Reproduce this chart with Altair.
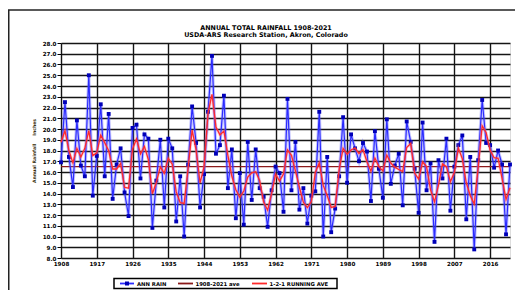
import altair as alt
import pandas as pd

# ---- data ----
years = list(range(1908, 2022))
ann_rain = [
    16.9, 22.5, 17.4, 14.6, 20.8, 16.6, 15.6, 25.0, 13.8, 17.5,
    22.3, 15.6, 21.4, 13.5, 16.7, 18.2, 14.1, 11.9, 20.1, 20.4,
    15.4, 19.5, 19.1, 10.8, 15.2, 19.0, 12.7, 19.1, 18.2, 11.4,
    15.6, 10.0, 16.7, 22.1, 18.7, 12.7, 15.8, 21.6, 26.8, 17.7,
    18.5, 23.1, 14.5, 18.1, 11.7, 15.9, 11.1, 18.8, 13.4, 18.1,
    14.5, 13.7, 10.9, 14.3, 16.5, 15.9, 12.3, 22.8, 14.3, 18.8,
    12.5, 14.5, 11.2, 13.8, 14.2, 21.6, 10.0, 17.4, 10.4, 12.6,
    15.6, 21.1, 15.0, 19.5, 18.2, 17.0, 18.7, 17.9, 13.3, 19.8,
    16.3, 13.6, 20.9, 14.9, 16.6, 17.7, 12.9, 20.7, 18.8, 16.3,
    12.2, 20.6, 14.3, 16.8, 9.5, 17.1, 15.4, 19.1, 12.4, 16.5,
    18.5, 19.4, 11.6, 17.4, 8.8, 17.1, 22.7, 18.7, 18.5, 16.4,
    18.0, 16.7, 10.2, 16.7,
]
running_ave = [
    18.77, 19.83, 17.98, 16.85, 18.20, 17.40, 18.20, 19.85, 17.53, 17.78,
    19.43, 18.73, 17.98, 16.28, 16.28, 16.80, 14.58, 14.50, 18.13, 19.08,
    17.68, 18.38, 17.13, 13.98, 15.05, 16.48, 15.88, 17.28, 16.73, 14.15,
    13.15, 13.08, 16.38, 19.90, 18.05, 14.98, 16.48, 21.45, 23.23, 20.18,
    19.45, 19.80, 17.55, 15.60, 14.35, 13.65, 14.23, 15.53, 15.93, 16.03,
    15.20, 13.20, 12.45, 14.00, 15.80, 15.15, 15.83, 18.05, 17.55, 16.10,
    14.58, 13.18, 12.68, 13.25, 15.95, 16.85, 14.75, 13.80, 12.70, 12.80,
    16.23, 18.20, 17.65, 18.05, 18.23, 17.73, 18.08, 16.95, 16.08, 17.30,
    16.50, 16.10, 17.58, 16.83, 16.45, 16.23, 16.05, 18.28, 18.65, 15.90,
    15.33, 16.93, 16.50, 14.35, 13.23, 14.78, 16.75, 16.50, 15.10, 15.98,
    18.23, 17.23, 15.00, 13.80, 13.03, 16.43, 20.30, 19.65, 18.03, 17.33,
    17.28, 15.40, 13.45, 14.53,
]
ave_value = [16.5]
x_tick_years = [1908, 1917, 1926, 1935, 1944, 1953, 1962, 1971, 1980, 1989, 1998, 2007, 2016]
y_ticks = [float(v) for v in range(8, 29)]
series_names = ["ANN RAIN", "1908-2021 ave", "1-2-1 RUNNING AVE"]
series_colors = ["#2b2bff", "#8b1a1a", "#ff2a2a"]
marker_color = "#0000b8"
title_lines = ["ANNUAL TOTAL RAINFALL 1908-2021", "USDA-ARS Research Station, Akron, Colorado"]

rain_df = pd.DataFrame({"year": years, "value": ann_rain})
run_df = pd.DataFrame({"year": years, "value": running_ave})
ave_df = pd.DataFrame({"value": ave_value})
one = pd.DataFrame({"k": [0]})

FONT = "DejaVu Sans"

x_axis = alt.Axis(
    values=x_tick_years, format="d", title=None, labelFlush=False, labelOverlap=False,
    labelFont=FONT, labelFontSize=5.6, labelFontWeight="bold", labelColor="black",
    labelPadding=3, ticks=False, domain=False,
    grid=True, gridColor="#151515", gridWidth=1.4,
)
x_enc = alt.X(
    "year:Q",
    scale=alt.Scale(domain=[1908, 2021], nice=False, zero=False),
    axis=x_axis,
)
y_scale = alt.Scale(domain=[8, 28], nice=False, zero=False)
y_axis = alt.Axis(
    values=y_ticks, format=".1f", labelOverlap=False,
    title="Annual Rainfall\u00a0\u00a0\u00a0\u00a0\u00a0Inches",
    titleFont=FONT, titleFontSize=4.6, titleFontWeight="bold", titleColor="#3a3010",
    titlePadding=6,
    labelFont=FONT, labelFontSize=5.6, labelFontWeight="bold", labelColor="black",
    labelPadding=1, tickSize=4, tickColor="black", tickWidth=1, domain=False,
    grid=True, gridColor="#151515", gridWidth=1.3,
)
y_enc = alt.Y("value:Q", scale=y_scale, axis=y_axis)

# outer chart frame (top and left edges visible in the reference)
frame_top = alt.Chart(one).mark_rule(stroke="#222222", strokeWidth=1.6).encode(
    x=alt.value(-54), x2=alt.value(454), y=alt.value(-33)
)
frame_left = alt.Chart(one).mark_rule(stroke="#222222", strokeWidth=1.6).encode(
    x=alt.value(-52.3), y=alt.value(-33), y2=alt.value(260)
)

# chart title (two centred lines inside the frame)
title_marks = [
    alt.Chart(one).mark_text(
        font=FONT, fontSize=6.4, fontWeight="bold", color="black",
        align="center", baseline="middle",
    ).encode(x=alt.value(205), y=alt.value(-15 + 7 * i), text=alt.value(title_lines[i]))
    for i in range(2)
]

ave_rule = alt.Chart(ave_df).mark_rule(strokeWidth=1.2, color=series_colors[1]).encode(
    y=y_enc
)
blue_glow = alt.Chart(rain_df).mark_line(strokeWidth=3.2, opacity=0.35, color="#5a5aff").encode(
    x=x_enc, y=y_enc
)
blue_line = alt.Chart(rain_df).mark_line(strokeWidth=1.2, color=series_colors[0]).encode(
    x=x_enc, y=y_enc
)
squares = alt.Chart(rain_df).mark_square(size=15, opacity=1, color=marker_color).encode(
    x=x_enc, y=y_enc
)
red_glow = alt.Chart(run_df).mark_line(strokeWidth=3, opacity=0.3, color="#ff6a8a").encode(
    x=x_enc, y=y_enc
)
red_line = alt.Chart(run_df).mark_line(strokeWidth=1.3, color=series_colors[2]).encode(
    x=x_enc, y=y_enc
)

# legend box
LY = 240.5
leg_box = alt.Chart(one).mark_rect(fill="white", stroke="black", strokeWidth=1.5).encode(
    x=alt.value(53), x2=alt.value(276), y=alt.value(235.5), y2=alt.value(245.5)
)
leg_items = []
sym_x = [(59, 73), (117, 132), (191, 206)]
lab_x = [76, 134.5, 208.5]
for i in range(3):
    leg_items.append(
        alt.Chart(one).mark_rule(strokeWidth=1.8, color=series_colors[i]).encode(
            x=alt.value(sym_x[i][0]), x2=alt.value(sym_x[i][1]), y=alt.value(LY)
        )
    )
    leg_items.append(
        alt.Chart(one).mark_text(
            font=FONT, fontSize=5.3, fontWeight="bold", color="black",
            align="left", baseline="middle",
        ).encode(x=alt.value(lab_x[i]), y=alt.value(LY + 0.3), text=alt.value(series_names[i]))
    )
leg_items.append(
    alt.Chart(one).mark_square(size=16, opacity=1, color=marker_color).encode(
        x=alt.value(66), y=alt.value(LY)
    )
)

chart = alt.layer(
    frame_top, frame_left, *title_marks, ave_rule, blue_glow, blue_line, squares,
    red_glow, red_line, leg_box, *leg_items
).properties(
    width=449, height=215,
    autosize=alt.AutoSizeParams(type="none"),
    padding={"left": 53, "top": 35, "right": 9, "bottom": 32},
).configure_view(
    fill="#e0e0e0", stroke="black", strokeWidth=1.5
).configure(background="white")

chart.save("out.html", embed_options={"renderer": "svg", "actions": False})
